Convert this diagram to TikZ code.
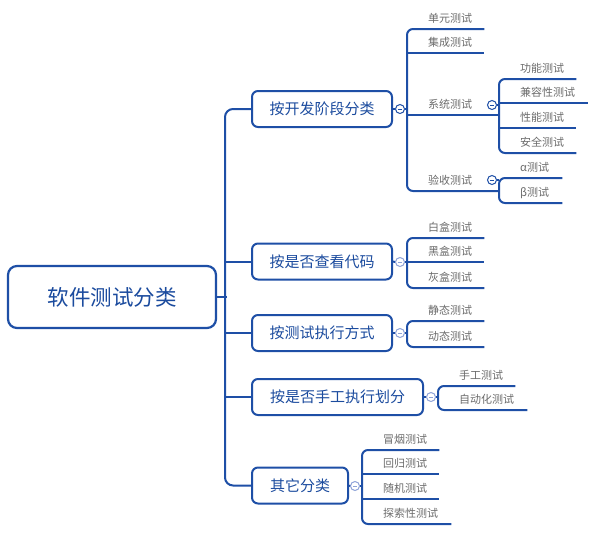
\documentclass[tikz,border=0pt]{standalone}
\usepackage{fontspec}
\setmainfont{Noto Sans CJK SC}
\definecolor{lineblue}{HTML}{1E4FA6}
\definecolor{textblue}{HTML}{1B4B9E}
\definecolor{leafgray}{HTML}{6B6B6B}
\definecolor{lightcirc}{HTML}{8FA3D8}
\begin{document}
\begin{tikzpicture}[x=1pt,y=-1pt,
 conn/.style={draw=lineblue, line width=2pt},
 cat/.style={draw=lineblue, line width=2pt, rounded corners=6pt, fill=white, text=textblue, font=\fontsize{15}{18}\selectfont, minimum height=36pt, inner xsep=0pt},
 rootbox/.style={draw=lineblue, line width=2.2pt, rounded corners=9pt, fill=white, text=textblue, font=\fontsize{21.5}{26}\selectfont, minimum width=208pt, minimum height=62pt},
 leaf/.style={anchor=south west, inner xsep=0pt, inner ysep=4pt, text width=#1, align=left, font=\fontsize{11}{13}\selectfont, text=leafgray, text height=9pt, text depth=2pt, execute at begin node={\hspace*{21pt}}},
 leaf/.default=77pt,
 fold/.style={circle, draw=#1, line width=1pt, fill=white, minimum size=9pt, inner sep=0pt, path picture={\draw[#1, line width=1pt] ([xshift=-2.2pt]path picture bounding box.center) -- ([xshift=2.2pt]path picture bounding box.center);}},
 fold/.default=lineblue]
\useasboundingbox (0,0) rectangle (600,539);

% root and categories
\node[rootbox] (root) at (112,297) {软件测试分类};
\node[cat, minimum width=140pt] (c1) at (322,109) {按开发阶段分类};
\node[cat, minimum width=140pt] (c2) at (322,261.5) {按是否查看代码};
\node[cat, minimum width=140pt] (c3) at (322,333) {按测试执行方式};
\node[cat, minimum width=171pt] (c4) at (337.5,397) {按是否手工执行划分};
\node[cat, minimum width=96pt] (c5) at (300,485.5) {其它分类};

% trunk
\draw[conn, rounded corners=8pt] (c1.west) -- ++(-26,0) |- (c5.west);
\draw[conn] (c2.west) -- ++(-26,0);
\draw[conn] (c3.west) -- ++(-26,0);
\draw[conn] (c4.west) -- ++(-26,0);
\draw[conn] (root.east) -- ++(10,0);

% group 1
\node[leaf] (a1) at (407,29) {单元测试};
\node[leaf] (a2) at (407,53) {集成测试};
\node[leaf=92pt] (a3) at (407,115) {系统测试};
\node[leaf=92pt] (a4) at (407,191) {验收测试};
\draw[conn, rounded corners=6pt] (a1.south east) -- (a1.south west) -- (a4.south west) -- (a4.south east);
\draw[conn] (a2.south west) -- (a2.south east);
\draw[conn] (a3.south west) -- (a3.south east);
\node[fold] (f1) at (400,109) {};
\draw[conn] (c1.east) -- (f1.west);
\draw[conn] (f1.east) -- (f1.east -| a1.south west);

% sub group 系统测试
\node[leaf] (s1) at (499,79) {功能测试};
\node[leaf=89pt] (s2) at (499,103) {兼容性测试};
\node[leaf] (s3) at (499,128) {性能测试};
\node[leaf] (s4) at (499,153) {安全测试};
\draw[conn, rounded corners=6pt] (s1.south east) -- (s1.south west) -- (s4.south west) -- (s4.south east);
\draw[conn] (s2.south west) -- (s2.south east);
\draw[conn] (s3.south west) -- (s3.south east);
\node[fold] (fs) at (492,105) {};
\draw[conn] (fs.east) -- (fs.east -| s1.south west);

% sub group 验收测试
\node[leaf=63pt] (t1) at (499,178) {α测试};
\node[leaf=63pt] (t2) at (499,203) {β测试};
\draw[conn, rounded corners=6pt] (t1.south east) -- (t1.south west) -- (t2.south west) -- (t2.south east);
\node[fold] (ft) at (492,180) {};
\draw[conn] (ft.east) -- (ft.east -| t1.south west);

% group 2
\node[leaf] (b1) at (407,238) {白盒测试};
\node[leaf] (b2) at (407,262) {黑盒测试};
\node[leaf] (b3) at (407,288) {灰盒测试};
\draw[conn, rounded corners=6pt] (b1.south east) -- (b1.south west) -- (b3.south west) -- (b3.south east);
\draw[conn] (b2.south west) -- (b2.south east);
\node[fold=lightcirc] (f2) at (400,262) {};
\draw[conn] (c2.east) -- (f2.west);
\draw[conn] (f2.east) -- (f2.east -| b1.south west);

% group 3
\node[leaf] (d1) at (407,321) {静态测试};
\node[leaf] (d2) at (407,347) {动态测试};
\draw[conn, rounded corners=6pt] (d1.south east) -- (d1.south west) -- (d2.south west) -- (d2.south east);
\node[fold=lightcirc] (f3) at (400,333) {};
\draw[conn] (c3.east) -- (f3.west);
\draw[conn] (f3.east) -- (f3.east -| d1.south west);

% group 4
\node[leaf] (e1) at (438,386) {手工测试};
\node[leaf=89pt] (e2) at (438,410) {自动化测试};
\draw[conn, rounded corners=6pt] (e1.south east) -- (e1.south west) -- (e2.south west) -- (e2.south east);
\node[fold=lightcirc] (f4) at (431,397) {};
\draw[conn] (c4.east) -- (f4.west);
\draw[conn] (f4.east) -- (f4.east -| e1.south west);

% group 5
\node[leaf] (g1) at (362,450) {冒烟测试};
\node[leaf] (g2) at (362,474) {回归测试};
\node[leaf] (g3) at (362,499) {随机测试};
\node[leaf=89pt] (g4) at (362,524) {探索性测试};
\draw[conn, rounded corners=6pt] (g1.south east) -- (g1.south west) -- (g4.south west) -- (g4.south east);
\draw[conn] (g2.south west) -- (g2.south east);
\draw[conn] (g3.south west) -- (g3.south east);
\node[fold=lightcirc] (f5) at (355,486) {};
\draw[conn] (c5.east) -- (f5.west);
\draw[conn] (f5.east) -- (f5.east -| g1.south west);
\end{tikzpicture}
\end{document}
